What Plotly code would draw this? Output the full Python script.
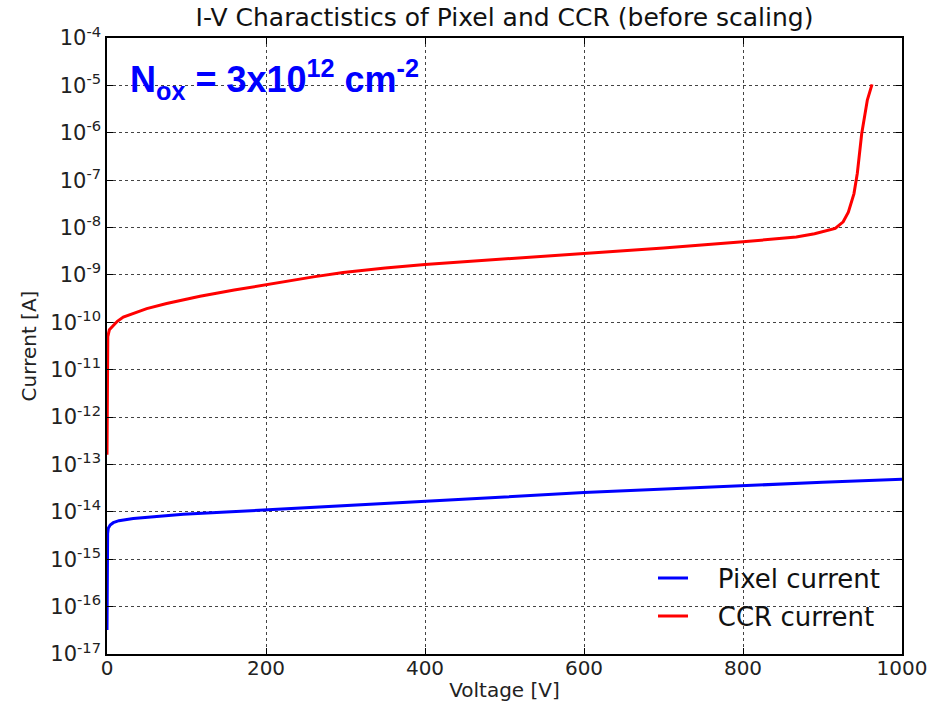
import plotly.graph_objects as go

# Pixel current (blue)
pixel_v = [0, 0.3, 0.8, 1.6, 4, 7.9, 15, 33, 60, 96, 150, 200, 300, 400, 469, 500, 600, 700, 800, 900, 1000]
pixel_i = [3.2e-17, 1.0e-15, 3.5e-15, 4.5e-15, 5.3e-15, 5.9e-15, 6.5e-15, 7.2e-15, 8.0e-15, 8.9e-15,
           9.9e-15, 1.1e-14, 1.35e-14, 1.62e-14, 1.9e-14, 2.05e-14, 2.57e-14, 3.05e-14, 3.63e-14,
           4.2e-14, 4.9e-14]

# CCR current (red)
ccr_v = [0, 0.2, 0.5, 1, 3, 7.9, 13, 20.5, 33, 50, 75, 117, 160, 200, 259.5, 297, 350, 400, 494,
         600, 700, 800, 867, 890, 909, 916, 926, 932.5, 939.6, 943.8, 949.3, 956.4, 962.3]
ccr_i = [1.6e-13, 1.0e-11, 3.5e-11, 5.0e-11, 7.0e-11, 8.5e-11, 1.05e-10, 1.29e-10, 1.55e-10,
         1.95e-10, 2.5e-10, 3.55e-10, 4.8e-10, 6.3e-10, 9.1e-10, 1.12e-9, 1.4e-9, 1.66e-9,
         2.14e-9, 2.8e-9, 3.7e-9, 5.0e-9, 6.3e-9, 7.4e-9, 9.1e-9, 9.6e-9, 1.32e-8, 2.1e-8,
         5.2e-8, 1.4e-7, 9.5e-7, 4.9e-6, 1.05e-5]

x_ticks = [0, 200, 400, 600, 800, 1000]
y_exponents = list(range(-17, -3))
y_ticks = [10.0 ** e for e in y_exponents]
y_ticktext = ["10<sup>%d</sup>" % e for e in y_exponents]

font_main = "DejaVu Sans"
pad = "\u00a0\u00a0\u00a0"

fig = go.Figure()
fig.add_trace(go.Scatter(x=pixel_v, y=pixel_i, mode="lines", name=pad + "Pixel current",
                         line=dict(color="#0000ff", width=3), legend="legend"))
fig.add_trace(go.Scatter(x=ccr_v, y=ccr_i, mode="lines", name=pad + "CCR current",
                         line=dict(color="#ff0000", width=3), legend="legend2"))

legend_common = dict(xanchor="left", yanchor="middle", bgcolor="rgba(0,0,0,0)", borderwidth=0,
                     font=dict(size=26, family=font_main, color="#111"))

fig.update_layout(
    width=934, height=708,
    margin=dict(l=107, r=32, t=38, b=54, autoexpand=False),
    paper_bgcolor="white", plot_bgcolor="white",
    font=dict(family=font_main, color="#222", size=19),
    title=dict(text="I-V Charactistics of Pixel and CCR (before scaling)",
               x=(107 + 795 / 2) / 934, xanchor="center", y=0.975, yanchor="middle",
               font=dict(size=25, family=font_main, color="#111")),
    showlegend=True,
    legend=dict(x=0.6868, y=0.1234, **legend_common),
    legend2=dict(x=0.6868, y=0.0617, **legend_common),
)

fig.update_xaxes(
    range=[0, 1000], tickvals=x_ticks, ticktext=[str(v) for v in x_ticks],
    showline=True, linecolor="black", linewidth=1.5, mirror="ticks",
    ticks="inside", ticklen=6, tickcolor="black",
    showgrid=True, gridcolor="#444", gridwidth=1, griddash="dot",
    zeroline=False, automargin=False, ticklabelstandoff=-5,
    title=dict(text="Voltage [V]", font=dict(size=20, family=font_main), standoff=4),
    tickfont=dict(size=20, family=font_main),
)
fig.update_yaxes(
    type="log", range=[-17, -4], tickvals=y_ticks, ticktext=y_ticktext,
    showline=True, linecolor="black", linewidth=1.5, mirror="ticks",
    ticks="inside", ticklen=6, tickcolor="black",
    showgrid=True, gridcolor="#444", gridwidth=1, griddash="dot",
    zeroline=False, automargin=False,
    title=dict(text="Current [A]", font=dict(size=20, family=font_main), standoff=8),
    tickfont=dict(size=21, family=font_main),
)

fig.add_annotation(
    xref="paper", yref="paper", x=0.026, y=0.932, xanchor="left", yanchor="middle",
    text="<b>N<sub>ox</sub> = 3x10<sup>12</sup> cm<sup>-2</sup></b>",
    showarrow=False, font=dict(family="Liberation Sans", size=36, color="#0000ff"),
)

fig.write_html("out.html")
